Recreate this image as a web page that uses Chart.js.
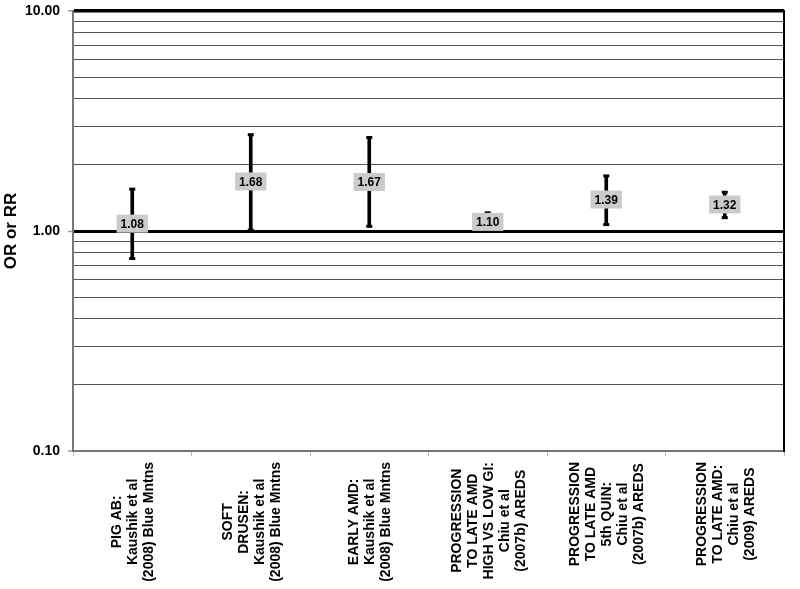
<!DOCTYPE html>
<html>
<head>
<meta charset="utf-8">
<script src="https://cdn.jsdelivr.net/npm/chart.js@4.4.1/dist/chart.umd.min.js"></script>
<style>
  html, body { margin: 0; padding: 0; background: #fff; }
  #wrap { width: 800px; height: 589px; }
</style>
</head>
<body>
<div id="wrap"><canvas id="orChart" width="800" height="589"></canvas></div>
<script>
// Data
const categories = [
  ["PIG AB:", "Kaushik et al", "(2008) Blue Mntns"],
  ["SOFT", "DRUSEN:", "Kaushik et al", "(2008) Blue Mntns"],
  ["EARLY AMD:", "Kaushik et al", "(2008) Blue Mntns"],
  ["PROGRESSION", "TO LATE AMD", "HIGH VS LOW GI:", "Chiu et al", "(2007b) AREDS"],
  ["PROGRESSION", "TO LATE AMD", "5th QUIN:", "Chiu et al", "(2007b) AREDS"],
  ["PROGRESSION", "TO LATE AMD:", "Chiu et al", "(2009) AREDS"],
];
const values = [1.08, 1.68, 1.67, 1.10, 1.39, 1.32];
const lows = [0.75, 1.01, 1.05, 1.00, 1.07, 1.15];
const highs = [1.55, 2.74, 2.66, 1.21, 1.78, 1.50];

// y gridlines (log) and labelled ticks
const yGrid = [0.1, 0.2, 0.3, 0.4, 0.5, 0.6, 0.7, 0.8, 0.9,
               1, 2, 3, 4, 5, 6, 7, 8, 9, 10];
const yLabelled = [0.1, 1, 10];

const FONT = "'Liberation Sans', Arial, sans-serif";
Chart.defaults.font.family = FONT;
Chart.defaults.color = "#000";

// value labels in grey boxes
const valueBoxes = {
  id: "valueBoxes",
  afterDatasetsDraw(chart) {
    const meta = chart.getDatasetMeta(3);
    const ctx = chart.ctx;
    ctx.save();
    ctx.font = "bold 12px " + FONT;
    ctx.textAlign = "center";
    ctx.textBaseline = "middle";
    meta.data.forEach((pt, i) => {
      const txt = values[i].toFixed(2);
      const w = ctx.measureText(txt).width + 8;
      const h = 18;
      ctx.fillStyle = "#cbcbcb";
      ctx.fillRect(pt.x - w / 2, pt.y - h / 2, w, h);
      ctx.fillStyle = "#000";
      ctx.fillText(txt, pt.x, pt.y + 1);
    });
    ctx.restore();
  },
};

// vertical, centred multi-line category labels
const xLabels = {
  id: "xLabels",
  afterDraw(chart) {
    const xs = chart.scales.x;
    const ctx = chart.ctx;
    const top = chart.chartArea.bottom + 11;
    const lh = 16;
    ctx.save();
    ctx.font = "bold 14px " + FONT;
    ctx.fillStyle = "#000";
    ctx.textAlign = "center";
    ctx.textBaseline = "middle";
    categories.forEach((lines, i) => {
      const x = xs.getPixelForValue(i) + 1;
      const w = Math.max(...lines.map((l) => ctx.measureText(l).width));
      ctx.save();
      ctx.translate(x, top);
      ctx.rotate(-Math.PI / 2);
      lines.forEach((l, j) => {
        ctx.fillText(l, -w / 2, (j - (lines.length - 1) / 2) * lh);
      });
      ctx.restore();
    });
    ctx.restore();
  },
};

new Chart(document.getElementById("orChart"), {
  type: "bar",
  data: {
    labels: categories.map((c) => c.join(" ")),
    datasets: [
      {
        data: lows.map((l, i) => [l, highs[i]]),
        backgroundColor: "#000",
        borderWidth: 0,
        barThickness: 3,
      },
      {
        type: "line",
        data: highs,
        showLine: false,
        pointStyle: "line",
        pointRadius: 3,
        pointBorderWidth: 3,
        pointBorderColor: "#000",
      },
      {
        type: "line",
        data: lows,
        showLine: false,
        pointStyle: "line",
        pointRadius: 3,
        pointBorderWidth: 3,
        pointBorderColor: "#000",
      },
      {
        type: "line",
        data: values,
        showLine: false,
        pointRadius: 0,
      },
    ],
  },
  options: {
    responsive: false,
    animation: false,
    layout: { padding: { top: 11, right: 8, left: 0, bottom: 0 } },
    plugins: {
      legend: { display: false },
      tooltip: { enabled: false },
    },
    scales: {
      x: {
        offset: true,
        ticks: { display: false },
        grid: {
          offset: true,
          drawOnChartArea: false,
          tickLength: 5,
          tickColor: "#bbb",
          tickWidth: 1,
        },
        border: { color: "#777", width: 2 },
        afterFit(scale) {
          scale.height = 138;
          scale.paddingLeft = 0;
          scale.paddingRight = 0;
        },
      },
      y: {
        type: "logarithmic",
        min: 0.1,
        max: 10,
        afterBuildTicks(scale) {
          scale.ticks = yGrid.map((v) => ({ value: v, major: yLabelled.includes(v) }));
        },
        afterFit(scale) {
          scale.width = 73;
          scale.paddingTop = 0;
          scale.paddingBottom = 0;
        },
        ticks: {
          autoSkip: false,
          padding: 8,
          font: { size: 14, weight: "bold" },
          callback: (v) => (yLabelled.includes(v) ? v.toFixed(2) : ""),
        },
        grid: {
          color: (c) => {
            const v = c.tick ? c.tick.value : null;
            if (v === 1 || v === 10) return "#000";
            if (v === 0.1) return "#777";
            return "#555";
          },
          lineWidth: (c) => {
            const v = c.tick ? c.tick.value : null;
            if (v === 1) return 3;
            if (v === 10) return 3.5;
            if (v === 0.1) return 2;
            return 1;
          },
          tickLength: 5,
          tickWidth: 1.5,
          tickColor: (c) => (c.tick && yLabelled.includes(c.tick.value) ? "#999" : "transparent"),
        },
        border: { color: "#777", width: 2 },
        title: {
          display: true,
          text: "OR or RR",
          font: { size: 17, weight: "bold" },
          padding: { top: 1, bottom: 0 },
        },
      },
      y2: {
        position: "right",
        min: 0,
        max: 1,
        ticks: { display: false },
        grid: { display: false },
        border: { color: "#000", width: 2 },
        afterFit(scale) {
          scale.paddingTop = 0;
          scale.paddingBottom = 0;
        },
      },
    },
  },
  plugins: [valueBoxes, xLabels],
});
</script>
</body>
</html>
